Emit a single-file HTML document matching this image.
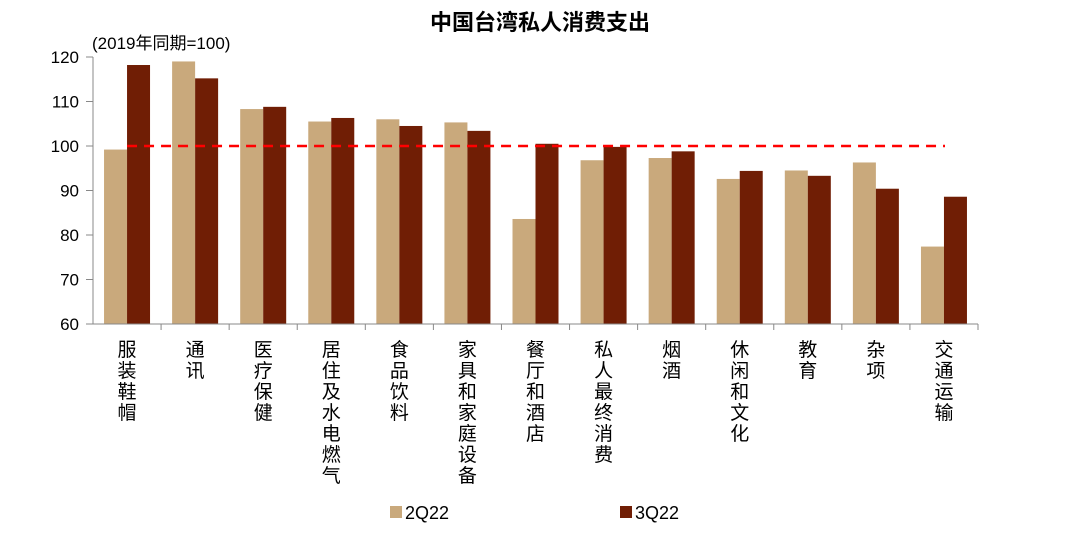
<!DOCTYPE html>
<html><head><meta charset="utf-8"><style>
body{margin:0;background:#fff;}
svg text{font-family:"Liberation Sans","Noto Sans CJK SC",sans-serif;}
</style></head><body>
<svg id="chart" width="1080" height="536" xmlns="http://www.w3.org/2000/svg">
<text x="540" y="30" text-anchor="middle" font-size="22" font-weight="bold" fill="#000">中国台湾私人消费支出</text>
<text x="92" y="49" font-size="17" fill="#000">(2019年同期=100)</text>
<g id="plot"></g>
<g>
<rect x="390" y="506" width="12" height="12" fill="#C9A97C"/>
<text x="405" y="519" font-size="18">2Q22</text>
<rect x="620" y="506" width="12" height="12" fill="#701E05"/>
<text x="635" y="519" font-size="18">3Q22</text>
</g>
</svg>
<script>
const categories=["服装鞋帽","通讯","医疗保健","居住及水电燃气","食品饮料","家具和家庭设备","餐厅和酒店","私人最终消费","烟酒","休闲和文化","教育","杂项","交通运输"];
const s2q22=[99.2,119.0,108.3,105.5,106.0,105.3,83.6,96.8,97.3,92.6,94.5,96.3,77.4];
const s3q22=[118.2,115.2,108.8,106.3,104.5,103.4,100.5,99.8,98.8,94.4,93.3,90.4,88.6];
const yTicks=[60,70,80,90,100,110,120];
const refValue=100;
const NS="http://www.w3.org/2000/svg";
const g=document.getElementById('plot');
const x0=93,x1=978,yMin=60,yMax=120,py0=324,py1=57;
const y=v=>py0-(v-yMin)/(yMax-yMin)*(py0-py1);
const cw=(x1-x0)/categories.length;
const bw=23;
function mk(t,a){const e=document.createElementNS(NS,t);for(const k in a)e.setAttribute(k,a[k]);g.appendChild(e);return e;}
categories.forEach((c,i)=>{
 const cx=x0+cw*(i+0.5);
 let r=mk('rect',{x:cx-bw,y:y(s2q22[i]),width:bw,height:py0-y(s2q22[i]),fill:'#C9A97C'});
 
 
 r=mk('rect',{x:cx,y:y(s3q22[i]),width:bw,height:py0-y(s3q22[i]),fill:'#701E05'});
 
 
 const t=mk('text',{x:cx-9.5,y:356,'font-size':19,fill:'#000'});
 
 
 [...c].forEach((ch,j)=>{const ts=document.createElementNS(NS,'tspan');ts.setAttribute('x',cx-9.5);ts.setAttribute('y',356+j*21);ts.textContent=ch;t.appendChild(ts);});
 const tk=mk('line',{x1:x0+cw*(i+1),x2:x0+cw*(i+1),y1:py0,y2:py0+6,stroke:'#888'});
 
 
});
yTicks.forEach(v=>{
 const l=mk('line',{x1:x0-7,x2:x0,y1:y(v),y2:y(v),stroke:'#888'});
 
 
 const t=mk('text',{x:x0-14,y:y(v)+6,'text-anchor':'end','font-size':17});
 t.textContent=v;
 
 
});
let a=mk('line',{x1:x0,x2:x0,y1:py1,y2:py0,stroke:'#888'});


a=mk('line',{x1:x0,x2:x1,y1:py0,y2:py0,stroke:'#888'});


const rl=mk('line',{x1:x0+cw*0.5,x2:945,y1:y(refValue),y2:y(refValue),stroke:'#F00','stroke-width':2.5,'stroke-dasharray':'10,7'});


</script>
</body></html>
